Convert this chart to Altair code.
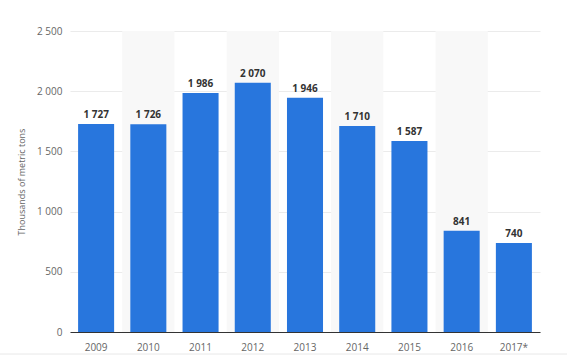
import altair as alt
import pandas as pd

years = ["2009", "2010", "2011", "2012", "2013", "2014", "2015", "2016", "2017*"]
values = [1727, 1726, 1986, 2070, 1946, 1710, 1587, 841, 740]
shaded = ["2010", "2012", "2014", "2016"]

df = pd.DataFrame({"year": years, "value": values})
df["shade"] = df["year"].isin(shaded)

FONT = "Open Sans"
PAD_IN = 0.31

xscale = alt.Scale(domain=years, paddingInner=PAD_IN, paddingOuter=PAD_IN / 2)
yscale = alt.Scale(domain=[0, 2500])

base = alt.Chart(df)

bands = base.transform_filter("datum.shade").mark_bar(
    color="#f8f8f8", width=alt.RelativeBandSize(1 / (1 - PAD_IN))
).encode(
    x=alt.X("year:N", scale=xscale, sort=years),
    y=alt.value(0),
    y2=alt.value(301),
)

bars = base.mark_bar(color="#2876dd").encode(
    x=alt.X(
        "year:N",
        scale=xscale,
        sort=years,
        title=None,
        axis=alt.Axis(
            labelAngle=0,
            labelAlign="center",
            labelBaseline="top",
            labelFont=FONT,
            labelFontSize=10,
            labelColor="#666666",
            labelPadding=10,
            ticks=False,
            domainColor="#333333",
            domainWidth=1,
        ),
    ),
    y=alt.Y(
        "value:Q",
        scale=yscale,
        title="Thousands of metric tons",
        axis=alt.Axis(
            values=[0, 500, 1000, 1500, 2000, 2500],
            labelExpr="replace(format(datum.value, ','), ',', ' ')",
            labelFont=FONT,
            labelFontSize=10,
            labelColor="#666666",
            labelPadding=8,
            ticks=False,
            domain=False,
            grid=True,
            gridColor="#ebebeb",
            gridWidth=1,
            titleFont=FONT,
            titleFontSize=9,
            titleFontWeight="normal",
            titleColor="#666666",
            titlePadding=10,
        ),
    ),
)

labels = base.transform_calculate(
    lab="replace(format(datum.value, ','), ',', ' ')"
).mark_text(
    baseline="bottom", dy=-4, font=FONT, fontSize=10, fontWeight="bold", color="#333333"
).encode(
    x=alt.X("year:N", scale=xscale, sort=years),
    y=alt.Y("value:Q", scale=yscale),
    text="lab:N",
)

bottom_line = alt.Chart(pd.DataFrame({"a": [0]})).mark_rule(
    color="#e8e8e8", strokeWidth=1
).encode(x=alt.value(-70), x2=alt.value(497), y=alt.value(323))

chart = (
    alt.layer(bands, bars, labels, bottom_line)
    .properties(
        width=470,
        height=301,
        autosize=alt.AutoSizeParams(type="none"),
        padding={"left": 70, "top": 31, "right": 27, "bottom": 26},
        background="white",
    )
    .configure_view(stroke=None)
)

chart.save("out.html", embed_options={"renderer": "svg", "actions": False})
